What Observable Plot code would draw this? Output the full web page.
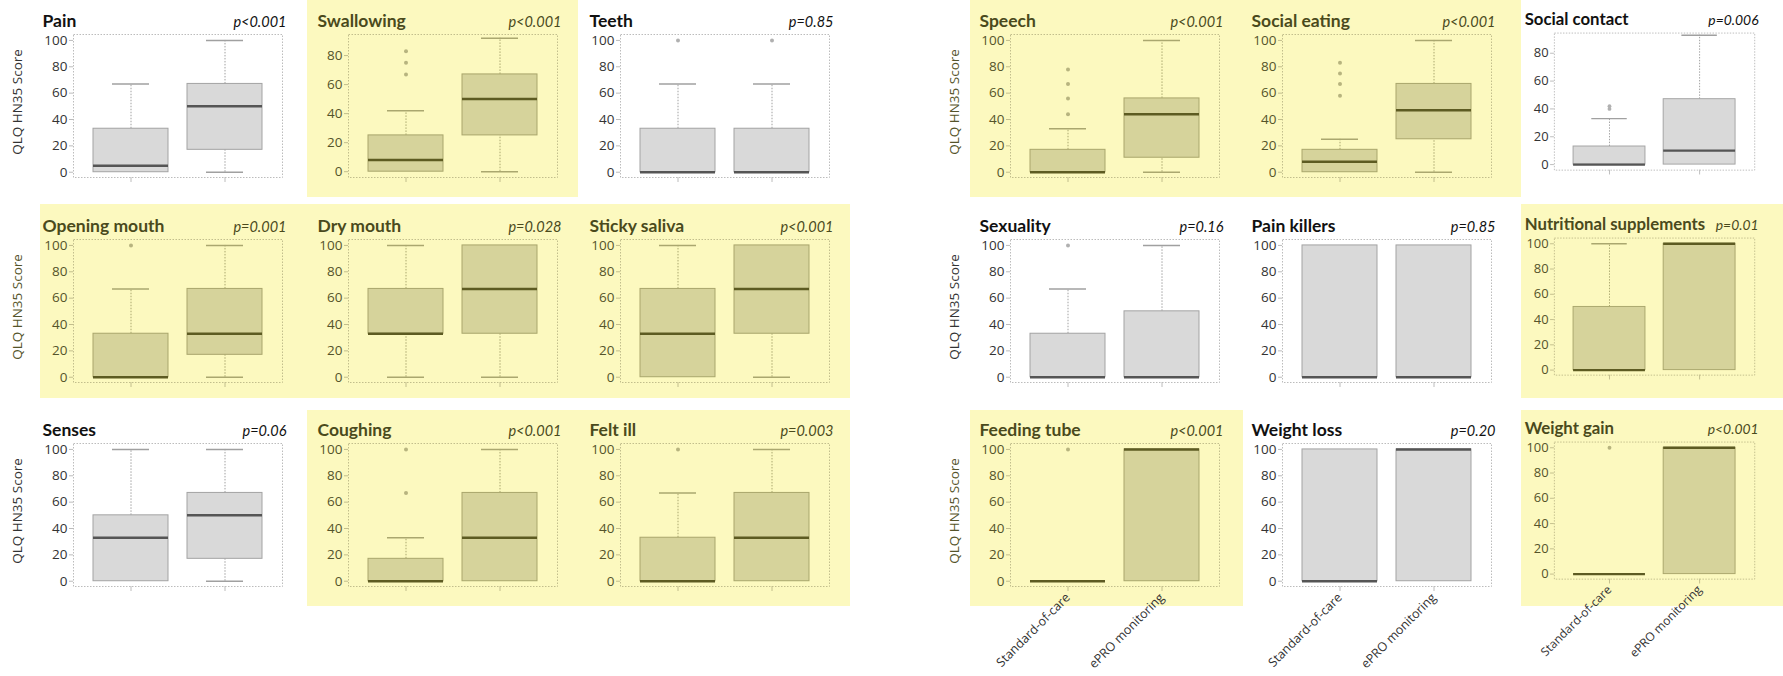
<!DOCTYPE html>
<html><head><meta charset="utf-8">
<script src="https://cdn.jsdelivr.net/npm/d3@7"></script>
<script src="https://cdn.jsdelivr.net/npm/@observablehq/plot@0.6"></script>
<style>
html,body{margin:0;padding:0;background:#fff;}
#root{position:relative;width:1783px;height:676px;overflow:hidden;background:#fff;}
.hl{position:absolute;background:#fcf9bf;}
.panel{position:absolute;}
</style></head><body><div id="root"></div>
<script>
// ---- data ----
const titles = ["Pain","Swallowing","Teeth","Opening mouth","Dry mouth","Sticky saliva","Senses","Coughing","Felt ill",
  "Speech","Social eating","Social contact","Sexuality","Pain killers","Nutritional supplements","Feeding tube","Weight loss","Weight gain"];
const pValues = ["p<0.001","p<0.001","p=0.85","p=0.001","p=0.028","p<0.001","p=0.06","p<0.001","p=0.003",
  "p<0.001","p<0.001","p=0.006","p=0.16","p=0.85","p=0.01","p<0.001","p=0.20","p<0.001"];
const highlighted = [false,true,false,true,true,true,false,true,true,
  true,true,false,false,false,true,true,false,true];
const groups = ["Standard-of-care","ePRO monitoring"];
const yAxisLabel = "QLQ HN35 Score";
const yTickMax = [100,80,100,100,100,100,100,100,100,100,100,80,100,100,100,100,100,100];

const socLow    = [0,0,0,0,0,0,0,0,0, 0,0,0,0,0,0,0,0,0];
const socQ1     = [0,0,0,0,33,0,0,0,0, 0,0,0,0,0,0,0,0,0];
const socMedian = [5,8,0,0,33,33,33,0,0, 0,8,0,0,0,0,0,0,0];
const socQ3     = [33,25,33,33,67,67,50,17,33, 17,17,13,33,100,50,0,100,0];
const socHigh   = [67,42,67,67,100,100,100,33,67, 33,25,33,67,100,100,0,100,0];
const socOutliers = [[],[67,75,83],[100],[100],[],[],[],[67,100],[100],
  [44,56,67,78],[58,67,75,83],[40,42],[100],[],[],[100],[],[100]];

const eproLow    = [0,0,0,0,0,0,0,0,0, 0,0,0,0,0,0,0,0,0];
const eproQ1     = [17,25,0,17,33,33,17,0,0, 11,25,0,0,0,0,0,0,0];
const eproMedian = [50,50,0,33,67,67,50,33,33, 44,47,10,0,0,100,100,100,100];
const eproQ3     = [67,67,33,67,100,100,67,67,67, 56,67,47,50,100,100,100,100,100];
const eproHigh   = [100,92,67,100,100,100,100,100,100, 100,100,93,100,100,100,100,100,100];
const eproOutliers = [[],[],[100],[],[],[],[],[],[],
  [],[],[],[],[],[],[],[],[]];

// ---- layout ----
const colFrameLeft = [[73,348,620],[1010,1282,1557]];
const colBgLeft = [[40,307,578,850],[970,1243,1521,1783]];
const rowFrameTop = [34,239,443];
const rowBg = [[0,197],[204,398],[410,606]];
const FW = 209, FH = 143;

const plain = {title:"#111",text:"#333",frame:"#bcbcbc",fill:"#d9d9d9",stroke:"#a3a3a3",median:"#555",whisker:"#a0a0a0",out:"#b0b0b0"};
const yellow = {title:"#4a4a1c",text:"#55542a",frame:"#c2be8c",fill:"#d6d39b",stroke:"#a9a66c",median:"#5d5b22",whisker:"#aaa76f",out:"#b7b47f"};

const root = document.getElementById("root");

function makePanel(i, g, col, row) {
  const C = highlighted[i] ? yellow : plain;
  const stats = [
    {group: groups[0], lo: socLow[i], q1: socQ1[i], med: socMedian[i], q3: socQ3[i], hi: socHigh[i]},
    {group: groups[1], lo: eproLow[i], q1: eproQ1[i], med: eproMedian[i], q3: eproQ3[i], hi: eproHigh[i]}
  ];
  const outs = [
    ...socOutliers[i].map(v => ({group: groups[0], v})),
    ...eproOutliers[i].map(v => ({group: groups[1], v}))
  ];
  const upper = stats.filter(d => d.hi > d.q3);
  const lower = stats.filter(d => d.lo < d.q1);
  const tickMax = yTickMax[i];
  const yMax = tickMax === 80 ? 94.5 : 104.5;
  const bottomLabels = g === 1 && row === 2;
  const mL = 75, mR = 30, mT = 34, mB = bottomLabels ? 98 : 22;
  const fx = colFrameLeft[g][col], fy = rowFrameTop[row];

  if (highlighted[i]) {
    const bg = document.createElement("div");
    bg.className = "hl";
    bg.style.left = colBgLeft[g][col] + "px";
    bg.style.width = (colBgLeft[g][col+1] - colBgLeft[g][col]) + "px";
    bg.style.top = rowBg[row][0] + "px";
    bg.style.height = (rowBg[row][1] - rowBg[row][0]) + "px";
    root.appendChild(bg);
  }

  const marks = [
    Plot.frame({stroke: C.frame, strokeDasharray: "1.5,1.5"}),
    Plot.axisY({ticks: d3.range(0, tickMax + 1, 20), tickSize: 4, tickPadding: 2, fontSize: 13.5, fill: C.text, stroke: C.frame, label: null}),
    bottomLabels
      ? Plot.axisX({tickSize: 5, tickPadding: 4, tickRotate: -45, fontSize: 12.5, fill: "#333", stroke: C.frame, label: null})
      : Plot.axisX({tickSize: 5, fill: "none", stroke: C.frame, label: null}),
    Plot.ruleX(upper, {x: "group", y1: "q3", y2: "hi", stroke: C.whisker, strokeDasharray: "1.5,1.5"}),
    Plot.ruleX(lower, {x: "group", y1: "lo", y2: "q1", stroke: C.whisker, strokeDasharray: "1.5,1.5"}),
    Plot.tickY(upper, {x: "group", y: "hi", stroke: C.whisker, strokeWidth: 1.5, insetLeft: 19, insetRight: 19}),
    Plot.tickY(lower, {x: "group", y: "lo", stroke: C.whisker, strokeWidth: 1.5, insetLeft: 19, insetRight: 19}),
    Plot.barY(stats, {x: "group", y1: "q1", y2: "q3", fill: C.fill, stroke: C.stroke, strokeWidth: 1}),
    Plot.tickY(stats, {x: "group", y: "med", stroke: C.median, strokeWidth: 2.5}),
    Plot.dot(outs, {x: "group", y: "v", r: 2, fill: C.out, stroke: "none"}),
    Plot.text([titles[i]], {text: d => d, frameAnchor: "top-left", textAnchor: "start", lineAnchor: "bottom", dx: -31, dy: -8,
      fontFamily: "Lato", fontWeight: "bold", fontSize: 17.5, fill: C.title}),
    Plot.text([pValues[i]], {text: d => d, frameAnchor: "top-right", textAnchor: "end", lineAnchor: "bottom", dx: 4, dy: -8,
      fontFamily: "Lato", fontStyle: "italic", fontSize: 14.5, fill: C.title})
  ];
  if (col === 0) {
    marks.push(Plot.text([yAxisLabel], {text: d => d, frameAnchor: "left", rotate: -90, dx: -56, dy: -4,
      fontSize: 13.5, fill: C.text, textAnchor: "middle"}));
  }

  const svg = Plot.plot({
    width: mL + FW + mR, height: mT + FH + mB,
    marginLeft: mL, marginRight: mR, marginTop: mT, marginBottom: mB,
    style: {background: "transparent", overflow: "visible", fontFamily: "'Open Sans', sans-serif"},
    x: {domain: groups, padding: 0.2, label: null},
    y: {domain: [-4, yMax], label: null},
    marks
  });
  const wrap = document.createElement("div");
  wrap.className = "panel";
  wrap.style.left = (fx - mL) + "px";
  wrap.style.top = (fy - mT) + "px";
  wrap.appendChild(svg);
  root.appendChild(wrap);
}

for (let g = 0; g < 2; g++) {
  for (let row = 0; row < 3; row++) {
    for (let col = 0; col < 3; col++) {
      makePanel(g * 9 + row * 3 + col, g, col, row);
    }
  }
}
</script>
</body></html>
